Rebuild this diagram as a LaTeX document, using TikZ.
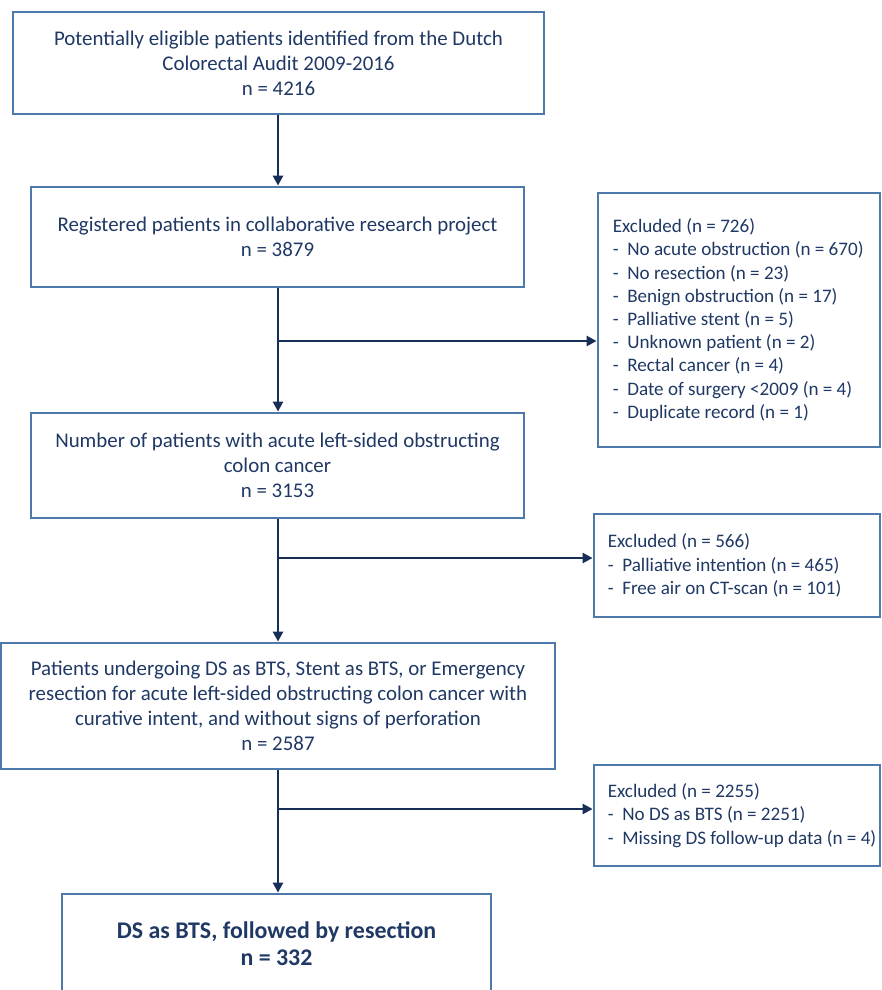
\documentclass[tikz,border=0pt]{standalone}
\usepackage{fontspec}
\setmainfont{Carlito}
\usetikzlibrary{arrows.meta}
\definecolor{txt}{HTML}{1F3864}
\definecolor{brd}{HTML}{4D7AAA}
\definecolor{arr}{HTML}{172F57}
\begin{document}
\begin{tikzpicture}[x=1pt,y=-1pt,
  box/.style={draw=brd,line width=2.8pt,inner sep=0pt,text=txt,align=center,
    font=\fontsize{20.9}{25}\selectfont},
  exbox/.style={draw=brd,line width=2.8pt,inner sep=0pt},
  extext/.style={anchor=west,inner sep=0pt,text=txt,align=left,
    font=\fontsize{19.1}{23.2}\selectfont},
  flow/.style={draw=arr,line width=2.8pt,-{Triangle[width=10pt,length=10pt]}}]
\useasboundingbox (0,0) rectangle (882,990);
\node[box,minimum width=531,minimum height=102] (n1) at (278.5,63)
  {Potentially eligible patients identified from the Dutch\\Colorectal Audit 2009-2016\\n = 4216};
\node[box,minimum width=493,minimum height=100] (n2) at (277.5,237)
  {Registered patients in collaborative research project\\n = 3879};
\node[box,minimum width=493,minimum height=105] (n3) at (277.5,465.5)
  {Number of patients with acute left-sided obstructing\\colon cancer\\n = 3153};
\node[box,minimum width=554,minimum height=126] (n4) at (278,706)
  {Patients undergoing DS as BTS, Stent as BTS, or Emergency\\resection for acute left-sided obstructing colon cancer with\\curative intent, and without signs of perforation\\n = 2587};
\node[box,minimum width=429,minimum height=100,font=\bfseries\fontsize{23.9}{27}\selectfont] (n5) at (276.5,944)
  {DS as BTS, followed by resection\\n = 332};
\node[exbox,minimum width=282,minimum height=254] (ex1) at (739,320) {};
\node[exbox,minimum width=286,minimum height=103] (ex2) at (737,565.5) {};
\node[exbox,minimum width=286,minimum height=101] (ex3) at (737,815.5) {};
\node[extext] (t1) at ([xshift=16pt]ex1.west)
  {Excluded (n = 726)\\
   -\ \ No acute obstruction (n = 670)\\
   -\ \ No resection (n = 23)\\
   -\ \ Benign obstruction (n = 17)\\
   -\ \ Palliative stent (n = 5)\\
   -\ \ Unknown patient (n = 2)\\
   -\ \ Rectal cancer (n = 4)\\
   -\ \ Date of surgery <2009 (n = 4)\\
   -\ \ Duplicate record (n = 1)};
\node[extext] (t2) at ([xshift=15pt]ex2.west)
  {Excluded (n = 566)\\
   -\ \ Palliative intention (n = 465)\\
   -\ \ Free air on CT-scan (n = 101)};
\node[extext] (t3) at ([xshift=15pt]ex3.west)
  {Excluded (n = 2255)\\
   -\ \ No DS as BTS (n = 2251)\\
   -\ \ Missing DS follow-up data (n = 4)};
\draw[flow] (n1.south -| 278,0) -- (n2.north -| 278,0);
\draw[flow] (n2.south -| 278,0) -- (n3.north -| 278,0);
\draw[flow] (n3.south -| 278,0) -- (n4.north -| 278,0);
\draw[flow] (n4.south -| 278,0) -- (n5.north -| 278,0);
\coordinate (b1) at (278,341);
\coordinate (b2) at (278,558);
\coordinate (b3) at (278,809);
\draw[flow] (b1) -- (b1 -| ex1.west);
\draw[flow] (b2) -- (b2 -| ex2.west);
\draw[flow] (b3) -- (b3 -| ex3.west);
\end{tikzpicture}
\end{document}
